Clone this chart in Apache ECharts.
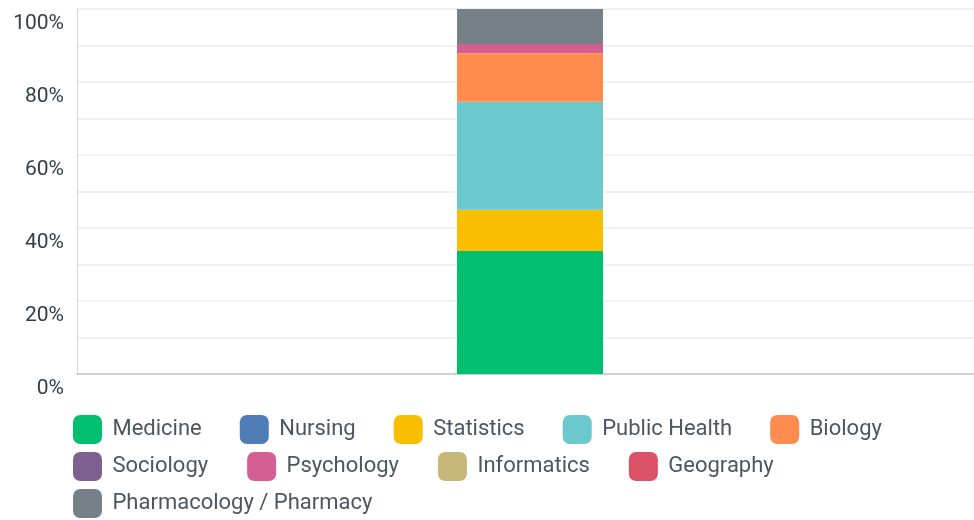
<!DOCTYPE html>
<html>
<head>
<meta charset="utf-8">
<script src="https://cdn.jsdelivr.net/npm/echarts@6/dist/echarts.min.js"></script>
<style>
  html, body { margin: 0; padding: 0; background: #fff; }
  #chart { width: 974px; height: 520px; }
</style>
</head>
<body>
<div id="chart"></div>
<script>
// data (percent of respondents)
const categories = [''];
const fields = ['Medicine', 'Nursing', 'Statistics', 'Public Health', 'Biology',
  'Sociology', 'Psychology', 'Informatics', 'Geography', 'Pharmacology / Pharmacy'];
const shares = [33.7, 0, 11.3, 29.6, 13.3, 0, 2.5, 0, 0, 9.6];
const yTicks = [0, 20, 40, 60, 80, 100];

const colors = ['#00bf6f', '#507cb6', '#f9be00', '#6bc8cd', '#ff8b4f',
  '#7f5f90', '#d25f90', '#c7b879', '#dc5166', '#768086'];

// legend rows as laid out in the original
const legendRows = [fields.slice(0, 5), fields.slice(5, 9), fields.slice(9)];
const rowGaps = [38, 39, 37];

const chart = echarts.init(document.getElementById('chart'));

const option = {
  animation: false,
  color: colors,
  grid: { left: 77, width: 906, top: 9, bottom: 146, outerBoundsMode: 'none' },
  legend: legendRows.map((row, r) => ({
    left: 73,
    top: 415 + r * 37,
    padding: 0,
    itemWidth: 29,
    itemHeight: 29,
    itemGap: rowGaps[r],
    icon: 'roundRect',
    formatter: name => ' ' + name,
    textStyle: {
      fontFamily: 'Roboto',
      fontSize: 22,
      color: '#4d5661'
    },
    data: row
  })),
  xAxis: {
    type: 'category',
    data: categories,
    axisLine: { lineStyle: { color: '#d0d0d0', width: 2 } },
    axisTick: { show: false },
    axisLabel: { show: false }
  },
  yAxis: {
    type: 'value',
    min: 0,
    max: 100,
    interval: 10,
    axisLine: { show: true, lineStyle: { color: '#d9d9d9', width: 1 } },
    axisTick: { show: false },
    splitLine: { lineStyle: { color: '#ededed', width: 1.5 } },
    axisLabel: {
      margin: 13,
      fontFamily: 'Roboto',
      fontSize: 21,
      color: '#333e48',
      verticalAlign: 'top',
      lineHeight: 30,
      formatter: v => (yTicks.includes(v) ? v + '%' : '')
    }
  },
  series: fields.map((name, i) => ({
    name: name,
    type: 'bar',
    stack: 'all',
    barWidth: 146,
    data: [shares[i]]
  }))
};

chart.setOption(option);
</script>
</body>
</html>
